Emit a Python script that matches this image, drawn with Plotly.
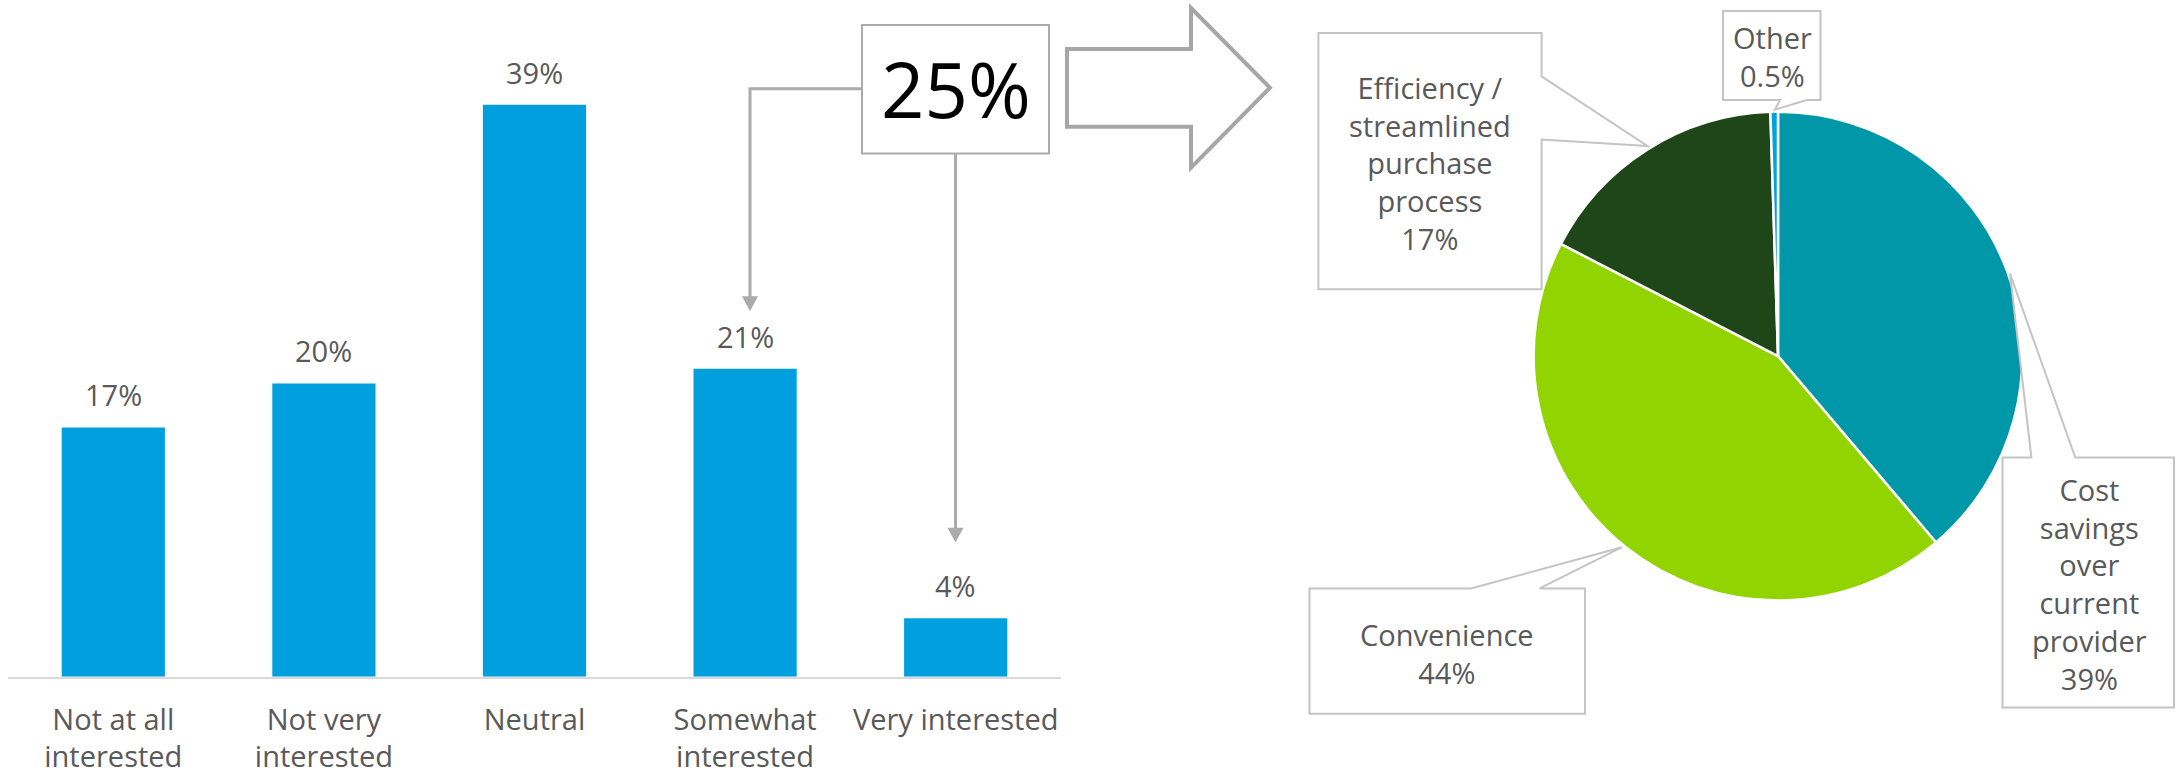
import plotly.graph_objects as go

W, H = 2177, 775

# Bar chart: interest level
interest_levels = ["Not at all interested", "Not very interested", "Neutral",
                   "Somewhat interested", "Very interested"]
interest_tick_text = ["Not at all<br>interested", "Not very<br>interested", "Neutral",
                      "Somewhat<br>interested", "Very interested"]
interest_pct = [17, 20, 39, 21, 4]

# Combined share of the two "interested" groups
interested_total = "25%"

# Pie chart: main reason
reason_labels = ["Cost savings over current provider", "Convenience",
                 "Efficiency / streamlined purchase process", "Other"]
reason_callout_text = ["Cost<br>savings<br>over<br>current<br>provider",
                       "Convenience",
                       "Efficiency /<br>streamlined<br>purchase<br>process",
                       "Other"]
reason_pct = [39, 44, 17, 0.5]
reason_colors = ["#0097A9", "#92D400", "#1E4619", "#00A3E0"]

BAR_BLUE = "#00A0DF"
TEXT_GREY = "#595959"
LINE_GREY = "#ABABAB"
BOX_GREY = "#C4C4C4"
FONT = "Open Sans"


def px(x):
    return x / W


def py(y):
    return 1 - y / H


def path(points):
    return "M " + " L ".join(f"{px(x):.5f},{py(y):.5f}" for x, y in points) + " Z"


fig = go.Figure()

fig.add_trace(go.Bar(
    x=interest_levels, y=interest_pct,
    marker=dict(color=BAR_BLUE, line=dict(width=0)),
    hoverinfo="skip", showlegend=False,
))

fig.add_trace(go.Pie(
    labels=reason_labels, values=reason_pct,
    marker=dict(colors=reason_colors, line=dict(color="white", width=2.5)),
    sort=False, direction="clockwise", rotation=0,
    textinfo="none", hoverinfo="skip", showlegend=False,
    domain=dict(x=[px(1533), px(2023)], y=[py(602), py(112)]),
))

annotations = []
shapes = []

# value labels above bars
for cat, v in zip(interest_levels, interest_pct):
    annotations.append(dict(
        x=cat, y=v, xref="x", yref="y", text=f"{v}%", showarrow=False,
        xanchor="center", yanchor="bottom", yshift=11,
        font=dict(family=FONT, size=29, color=TEXT_GREY),
    ))

# "25%" box with connectors to the two interested bars
shapes.append(dict(type="rect", xref="paper", yref="paper",
                   x0=px(862), x1=px(1049), y0=py(154), y1=py(25),
                   line=dict(color=LINE_GREY, width=2), fillcolor="white", layer="above"))
annotations.append(dict(x=px(955.5), y=py(89), xref="paper", yref="paper",
                        xanchor="center", yanchor="middle",
                        text=interested_total, showarrow=False,
                        font=dict(family=FONT, size=76, color="#000000")))

connector = dict(color=LINE_GREY, width=3)
shapes.append(dict(type="path", xref="paper", yref="paper",
                   path=f"M {px(862)},{py(89)} L {px(750)},{py(89)} L {px(750)},{py(298)}",
                   line=connector))
shapes.append(dict(type="path", xref="paper", yref="paper",
                   path=path([(742, 297), (758, 297), (750, 312)]),
                   line=dict(width=0), fillcolor=LINE_GREY))
shapes.append(dict(type="path", xref="paper", yref="paper",
                   path=f"M {px(955.5)},{py(154)} L {px(955.5)},{py(530)}",
                   line=connector))
shapes.append(dict(type="path", xref="paper", yref="paper",
                   path=path([(947.5, 529), (963.5, 529), (955.5, 544)]),
                   line=dict(width=0), fillcolor=LINE_GREY))

# block arrow between the two panels
shapes.append(dict(type="path", xref="paper", yref="paper",
                   path=path([(1067, 49), (1191, 49), (1191, 8), (1270, 88),
                              (1191, 168), (1191, 127), (1067, 127)]),
                   line=dict(color="#A6A6A6", width=4), fillcolor="white"))

# pie callouts
callout_style = dict(type="path", xref="paper", yref="paper",
                     line=dict(color=BOX_GREY, width=2), fillcolor="white", layer="above")
callouts = [
    # cost savings
    ([(2002.5, 458.7), (2031.4, 458.7), (2010, 274.3), (2075.3, 458.7),
      (2174, 458.7), (2174, 709.3), (2002.5, 709.3)], (2089, 586)),
    # convenience
    ([(1309.5, 590), (1470.9, 590), (1622, 548.6), (1539.6, 590),
      (1585, 590), (1585, 715.7), (1309.5, 715.7)], (1447, 655)),
    # efficiency
    ([(1318.4, 33), (1541.6, 33), (1541.6, 76.6), (1647.4, 146.3),
      (1541.6, 139.9), (1541.6, 290), (1318.4, 290)], (1430, 163)),
    # other
    ([(1723, 11), (1820.5, 11), (1820.5, 100.3), (1806.7, 100.3),
      (1775, 110), (1780, 100.3), (1723, 100.3)], (1772, 57)),
]
for (pts, (cx, cy)), txt, v in zip(callouts, reason_callout_text, reason_pct):
    shapes.append(dict(callout_style, path=path(pts)))
    annotations.append(dict(x=px(cx), y=py(cy), xref="paper", yref="paper",
                            xanchor="center", yanchor="middle",
                            text=f"{txt}<br>{v}%", showarrow=False,
                            font=dict(family=FONT, size=29, color=TEXT_GREY)))

baseline = 678.6
per_pct = 14.71
fig.update_layout(
    width=W, height=H,
    margin=dict(l=0, r=0, t=0, b=0),
    paper_bgcolor="white", plot_bgcolor="white",
    bargap=0.51,
    xaxis=dict(domain=[px(8), px(1061)], showline=True, linecolor="#D9D9D9", linewidth=2,
               ticks="", showgrid=False, zeroline=False,
               tickmode="array", tickvals=interest_levels, ticktext=interest_tick_text,
               tickfont=dict(family=FONT, size=29, color=TEXT_GREY),
               ticklabelstandoff=16),
    yaxis=dict(domain=[py(baseline), 1], range=[0, baseline / per_pct],
               visible=False, showgrid=False, zeroline=False),
    shapes=shapes,
    annotations=annotations,
    font=dict(family=FONT),
)

fig.write_html("out.html")
